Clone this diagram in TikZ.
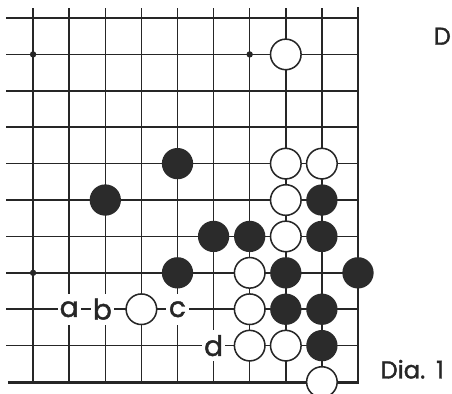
\documentclass[tikz,border=0pt]{standalone}
\usepackage{fontspec}
\setmainfont{Poppins}[FakeBold=1.2]
\newfontfamily\diafont{Poppins}[FakeBold=1.5]
\usetikzlibrary{positioning}
\definecolor{boardink}{HTML}{262626}
\definecolor{stoneblack}{HTML}{2B2B2B}

\tikzset{
    gridline/.style={draw=boardink, line width=1.2pt},
    edgeline/.style={draw=boardink, line width=2.3pt, line join=miter},
    hoshi/.style={circle, fill=boardink, minimum size=5pt, inner sep=0pt},
    blackstone/.style={circle, fill=stoneblack, minimum size=0.86cm, inner sep=0pt},
    whitestone/.style={circle, fill=white, draw=boardink, line width=1.2pt, minimum size=0.84cm, inner sep=0pt},
    pointlabel/.style={fill=white, minimum width=0.64cm, minimum height=0.85cm, inner sep=0pt, font=\diafont\fontsize{22}{22}\selectfont, text=boardink},
    caption/.style={font=\diafont\fontsize{19}{19}\selectfont, text=boardink}
}

\begin{document}
\begin{tikzpicture}[x=0.9917cm, y=1cm]
    \useasboundingbox (-9.917,-0.302) rectangle (2.604,10.495);

    % Board lines
    \foreach \r in {1,...,10}
        \draw[gridline] (-9.75,\r) -- (0,\r);
    \foreach \c in {1,...,9}
        \draw[gridline] (-\c,0) -- (-\c,10.28);
    \draw[edgeline] (-9.7,0) -- (0,0) -- (0,10.3);

    % Star points
    \node[hoshi] (h1) at (-9,9) {};
    \node[hoshi] (h2) at (-3,9) {};
    \node[hoshi] (h3) at (-9,3) {};

    % White stones
    \foreach \c/\r [count=\i] in {2/9, 2/6, 1/6, 2/5, 2/4, 3/3, 3/2, 6/2, 3/1, 2/1, 1/0}
        \node[whitestone] (w\i) at (-\c,\r) {};

    % Black stones
    \foreach \c/\r [count=\i] in {5/6, 7/5, 1/5, 4/4, 3/4, 1/4, 5/3, 2/3, 0/3, 2/2, 1/2, 1/1}
        \node[blackstone] (b\i) at (-\c,\r) {};

    % Lettered points
    \node[pointlabel] (pa) at (-8,2) {a};
    \node[pointlabel] (pb) at (-7.08,2) {b};
    \node[pointlabel] (pc) at (-5,2) {c};
    \node[pointlabel] (pd) at (-4,1) {d};

    % Captions
    \node[caption, anchor=west] (dia) at (0.5,0.35) {Dia.\hspace{0.45em}1};
    \node[caption, anchor=east, inner sep=0pt] (dnext) at (2.58,9.5) {D};
\end{tikzpicture}
\end{document}
